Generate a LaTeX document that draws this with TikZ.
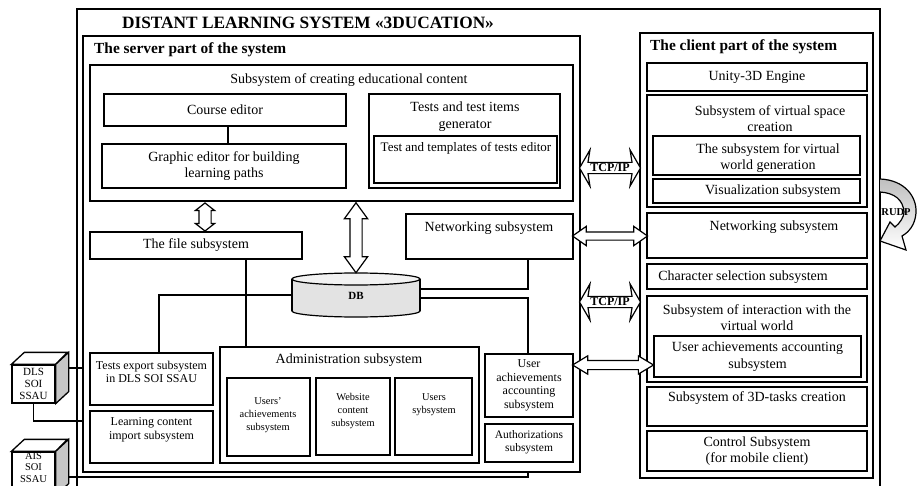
\documentclass[tikz,border=0pt]{standalone}
\usepackage{fontspec}
\setmainfont{Liberation Serif}
\usetikzlibrary{shapes.arrows, calc}

\begin{document}
\begin{tikzpicture}[x=1pt, y=-1pt,
    box/.style = {draw, line width=1.3pt, inner sep=0pt},
    txt/.style = {font=\fontsize{14}{16.5}\selectfont, align=center, inner sep=0pt},
    sml/.style = {font=\fontsize{12}{13.5}\selectfont, align=center, inner sep=0pt},
    tny/.style = {font=\fontsize{10.4}{13}\selectfont, align=center, inner sep=0pt},
    part/.style = {font=\bfseries\fontsize{15.4}{18}\selectfont, inner sep=0pt, anchor=west},
    hollow/.style = {double arrow, draw, line width=1.2pt, fill=white, inner xsep=0pt,
                     font=\bfseries\fontsize{12}{13}\selectfont},
    wire/.style = {line width=1.2pt}]
\useasboundingbox (0,0) rectangle (917,486);
\clip (0,0) rectangle (917,486);

% frames
\node[box, minimum width=803pt, minimum height=491pt] (system) at (478.5,254.5) {};
\node[font=\bfseries\fontsize{17.3}{20}\selectfont, inner sep=0pt] (title) at (308,23) {DISTANT LEARNING SYSTEM «3DUCATION»};
\node[box, minimum width=497pt, minimum height=436pt] (server) at (331.5,254) {};
\node[part] (serverlbl) at (94,50) {The server part of the system};
\node[box, minimum width=233pt, minimum height=445pt] (client) at (756.5,255.5) {};
\node[part] (clientlbl) at (650,47) {The client part of the system};

% server side
\node[box, minimum width=483pt, minimum height=136pt] (content) at (331.5,133) {};
\node[txt] (contentlbl) at (349,80) {Subsystem of creating educational content};
\node[box, txt, minimum width=242pt, minimum height=32pt] (course) at (225,110) {Course editor};
\node[box, txt, minimum width=244pt, minimum height=44pt] (graphic) at (224,166) {Graphic editor for building\\learning paths};
\node[box, minimum width=191pt, minimum height=94pt] (testsgen) at (464.5,141) {};
\node[txt] (testsgenlbl) at (465,116.5) {Tests and test items\\generator};
\node[box, minimum width=183pt, minimum height=47pt] (testsed) at (465.5,159.5) {};
\node[font=\fontsize{13}{14}\selectfont, inner sep=0pt] (testsedlbl) at (466,148) {Test and templates of tests editor};
\draw[wire] (course.south -| 228,0) -- (graphic.north -| 228,0);

\node[box, txt, minimum width=212pt, minimum height=27pt] (filesub) at (196,245.5) {The file subsystem};
\node[box, minimum width=167pt, minimum height=45pt] (netsrv) at (489.5,236.5) {};
\node[txt] (netsrvlbl) at (489,228) {Networking subsystem};

% data base
\coordinate (dbtop) at (356,279);
\coordinate (dbbot) at (356,311);
\filldraw[line width=1.2pt, fill=gray!22] (dbbot) ellipse [x radius=64, y radius=6];
\fill[gray!22] (292,279) rectangle (420,311);
\draw[line width=1.2pt] (292,279) -- (292,311) (420,279) -- (420,311);
\filldraw[line width=1.2pt, fill=gray!10] (dbtop) ellipse [x radius=64, y radius=6];
\node[font=\bfseries\fontsize{11}{12}\selectfont, minimum width=128pt, minimum height=44pt, inner sep=0pt] (db) at (356,296) {DB};

\node[box, minimum width=259pt, minimum height=116pt] (admin) at (349.5,405) {};
\node[txt] (adminlbl) at (349,360) {Administration subsystem};
\node[box, tny, minimum width=83pt, minimum height=78pt] (uach) at (268.5,417) {};
\node[tny] (uachlbl) at (268,415) {Users'\\achievements\\subsystem};
\node[box, minimum width=74pt, minimum height=77pt] (website) at (353,416.5) {};
\node[tny] (websitelbl) at (353,411) {Website\\content\\subsystem};
\node[box, minimum width=77pt, minimum height=77pt] (users) at (433.5,416.5) {};
\node[tny] (userslbl) at (434,405) {Users\\sybsystem};

\node[box, minimum width=123pt, minimum height=52pt] (testsexp) at (151.5,379) {};
\node[sml] (testsexplbl) at (151.5,372) {Tests export subsystem\\in DLS SOI SSAU};
\node[box, minimum width=123pt, minimum height=52pt] (learning) at (151.5,437) {};
\node[sml] (learninglbl) at (151.5,430) {Learning content\\import subsystem};
\node[box, sml, minimum width=88pt, minimum height=63pt] (srvua) at (529,385.5) {User\\achievements\\accounting\\subsystem};
\node[box, minimum width=88pt, minimum height=38pt] (auth) at (529,443) {};
\node[font=\fontsize{11.5}{13}\selectfont, align=center, inner sep=0pt] (authlbl) at (529,442.5) {Authorizations\\subsystem};

% wires
\draw[wire] (db.east |- 0,289) -| (netsrv.south -| 528,0);
\draw[wire] (db.east |- 0,298) -| (srvua.north -| 528,0);
\draw[wire] (db.west |- 0,295) -| (testsexp.north -| 159,0);
\draw[wire] (filesub.south -| 246,0) -- (admin.north -| 246,0);

% client side
\node[box, txt, minimum width=220pt, minimum height=28pt] (unity) at (757,77) {Unity-3D Engine};
\node[box, minimum width=220pt, minimum height=112pt] (vspace) at (757,151) {};
\node[txt] (vspacelbl) at (770,118.5) {Subsystem of virtual space\\creation};
\node[box, minimum width=207pt, minimum height=39pt] (vworld) at (756.5,155.5) {};
\node[txt] (vworldlbl) at (768,158) {The subsystem for virtual\\world generation};
\node[box, minimum width=207pt, minimum height=24pt] (visual) at (756.5,191) {};
\node[txt] (visuallbl) at (773,191) {Visualization subsystem};
\node[box, minimum width=220pt, minimum height=45pt] (netcli) at (757,235.5) {};
\node[txt] (netclilbl) at (774,227) {Networking subsystem};
\node[box, minimum width=220pt, minimum height=25pt] (charsel) at (757,276.5) {};
\node[txt] (charsellbl) at (743,277) {Character selection subsystem};
\node[box, minimum width=220pt, minimum height=86pt] (interact) at (757,339) {};
\node[txt] (interactlbl) at (757,317.5) {Subsystem of interaction with the\\virtual world};
\node[box, txt, minimum width=207pt, minimum height=41pt] (cliua) at (757.5,356.5) {User achievements accounting\\subsystem};
\node[box, minimum width=220pt, minimum height=39pt] (tasks) at (757,406.5) {};
\node[txt] (taskslbl) at (757,398) {Subsystem of 3D-tasks creation};
\node[box, txt, minimum width=220pt, minimum height=40pt] (control) at (757,451) {Control Subsystem\\(for mobile client)};

% hollow arrows
\node[hollow, rotate=90, minimum height=28pt, inner ysep=5.5pt, double arrow head extend=3.5pt, double arrow tip angle=104] (filearrow) at (205,217) {};
\node[hollow, rotate=90, minimum height=70pt, inner ysep=5.5pt, double arrow head extend=5.5pt, double arrow tip angle=72] (dbarrow) at ($(content.south -| db.north)!.5!(db.north)$) {};
\node[hollow, minimum height=61pt, inner ysep=1pt, double arrow head extend=12.5pt, double arrow tip angle=120, double arrow head indent=2pt] (tcpa) at (610,168) {TCP/IP};
\node[hollow, minimum height=75pt, inner ysep=3.5pt, double arrow head extend=5.5pt, double arrow tip angle=70] (netarrow) at ($(netsrv.east)!.5!(netcli.west)$) {};
\node[hollow, minimum height=61pt, inner ysep=1pt, double arrow head extend=12.5pt, double arrow tip angle=120, double arrow head indent=2pt] (tcpb) at (610,302) {TCP/IP};
\node[hollow, minimum height=81pt, inner ysep=4pt, double arrow head extend=4.5pt, double arrow tip angle=62] (uaarrow) at (613,365) {};

% RUDP loop
\draw[line width=1.2pt, top color=gray!50, bottom color=white] (880,179) .. controls (905,180) and (917,197) .. (916,213) .. controls (915,225) and (909,232) .. (902,236) -- (906,250) -- (880,241) -- (890,222) -- (895,227) .. controls (900,223) and (904,217) .. (904,212) .. controls (903,200) and (895,193) .. (880,192);
\node[font=\bfseries\fontsize{10.5}{12}\selectfont, inner sep=0pt] (rudp) at (896,212) {RUDP};

% external systems
\coordinate (dlsport) at (68,368);
\draw[wire] (dlsport) -- (server.west |- dlsport);
\node[box, minimum width=43pt, minimum height=38pt, font=\fontsize{11}{12}\selectfont, align=center] (dls) at (33.5,384) {DLS\\SOI\\SSAU};
\draw[wire] (dls.south) |- (server.west |- 0,421);
\draw[line width=1.3pt, fill=white] (dls.north west) -- ++(13,-12) -- ++(43,0) -- (dls.north east) -- cycle;
\draw[line width=1.3pt, fill=gray!45] (dls.north east) -- ++(13,-12) -- ($(dls.south east)+(13,-12)$) -- (dls.south east) -- cycle;

\coordinate (aisport) at (68,477);
\draw[wire] (aisport) -| (server.south -| 528,0);
\node[box, minimum width=43pt, minimum height=43pt] (ais) at (33.5,473.5) {};
\node[font=\fontsize{10.5}{11.2}\selectfont, align=center, inner sep=0pt] (aislbl) at (33.5,467.5) {AIS\\SOI\\SSAU};
\draw[line width=1.3pt, fill=white] (ais.north west) -- ++(13,-12) -- ++(43,0) -- (ais.north east) -- cycle;
\draw[line width=1.3pt, fill=gray!45] (ais.north east) -- ++(13,-12) -- ($(ais.south east)+(13,-12)$) -- (ais.south east) -- cycle;
\end{tikzpicture}
\end{document}
